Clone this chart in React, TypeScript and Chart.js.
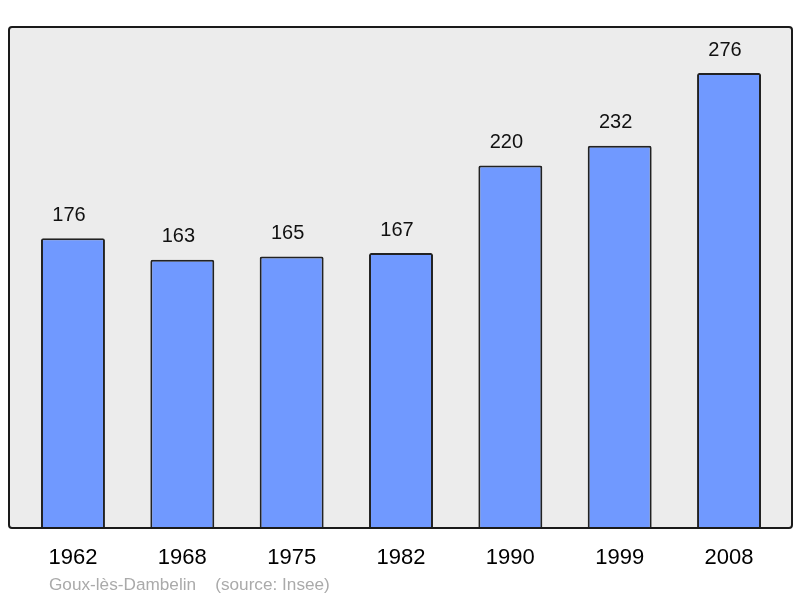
import React, { useEffect, useRef } from "react";
import { Chart, registerables } from "chart.js";

Chart.register(...registerables);

const years = ["1962", "1968", "1975", "1982", "1990", "1999", "2008"];
const population = [176, 163, 165, 167, 220, 232, 276];
const footerText = "Goux-lès-Dambelin    (source: Insee)";

const FONT = "'Liberation Sans', Arial, sans-serif";

const framePlugin = {
  id: "frame",
  beforeDraw(chart: any) {
    const ctx = chart.ctx;
    ctx.save();
    ctx.beginPath();
    ctx.roundRect(9, 27, 783, 501, 3);
    ctx.fillStyle = "#ececec";
    ctx.fill();
    ctx.restore();
  },
  afterDatasetsDraw(chart: any) {
    const ctx = chart.ctx;
    ctx.save();
    ctx.beginPath();
    ctx.roundRect(9, 27, 783, 501, 3);
    ctx.lineWidth = 2;
    ctx.strokeStyle = "#1a1a1a";
    ctx.stroke();
    // value labels
    const meta = chart.getDatasetMeta(0);
    ctx.fillStyle = "#111";
    ctx.font = `20px ${FONT}`;
    ctx.textAlign = "center";
    ctx.textBaseline = "middle";
    meta.data.forEach((bar: any, i: number) => {
      ctx.fillText(String(population[i]), bar.x - 4, bar.y - 23);
    });
    // footer
    ctx.fillStyle = "#aaaaaa";
    ctx.font = `17.2px ${FONT}`;
    ctx.textAlign = "left";
    ctx.fillText(footerText, 49, 585);
    ctx.restore();
  },
};

export default function App() {
  const ref = useRef<HTMLCanvasElement>(null);
  useEffect(() => {
    if (!ref.current) return;
    const chart = new Chart(ref.current, {
      type: "bar",
      data: {
        labels: years,
        datasets: [
          {
            data: population,
            backgroundColor: "#7099ff",
            borderColor: "#222222",
            borderWidth: 2,
            borderSkipped: false,
            borderRadius: 2,
            categoryPercentage: 1,
            barPercentage: 0.585,
          },
        ],
      },
      options: {
        animation: false,
        responsive: false,
        devicePixelRatio: 1,
        layout: { padding: { left: 18.3, right: 16.3, top: 33.4, bottom: 10.6 } },
        plugins: { legend: { display: false }, tooltip: { enabled: false } },
        scales: {
          x: {
            grid: { display: false, drawTicks: false },
            border: { display: false },
            ticks: { color: "#000", padding: 16, font: { family: FONT, size: 22 } },
          },
          y: { display: false, min: 0, max: 300 },
        },
      },
      plugins: [framePlugin],
    });
    return () => chart.destroy();
  }, []);
  return (
    <div style={{ position: "absolute", left: 0, top: 0, width: 800, height: 598 }}>
      <canvas ref={ref} width={800} height={598} />
    </div>
  );
}
